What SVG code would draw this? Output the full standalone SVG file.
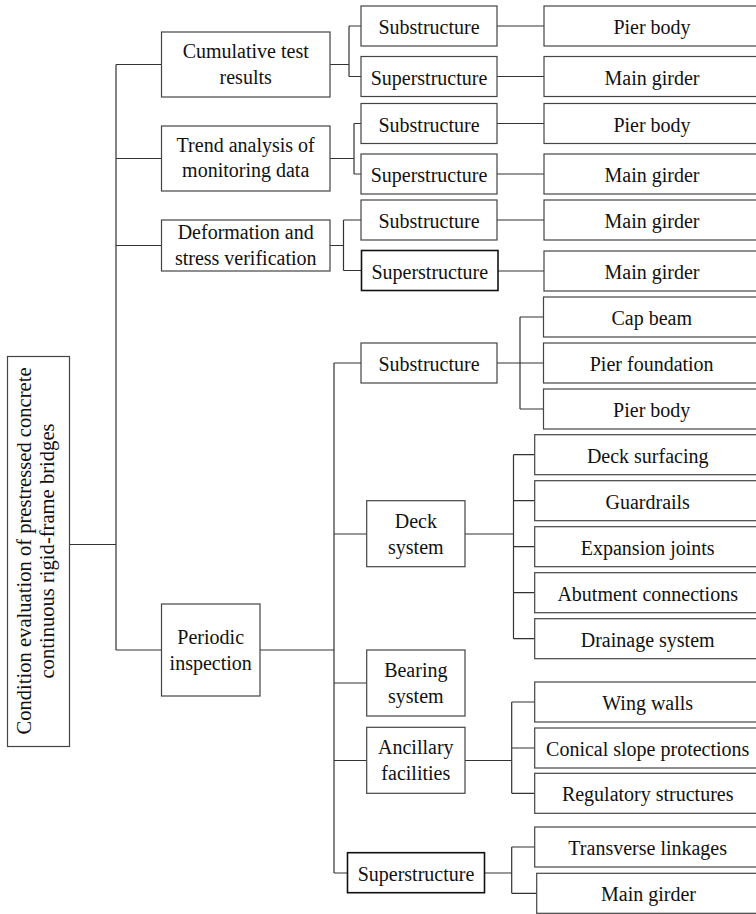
<svg xmlns="http://www.w3.org/2000/svg" width="756" height="914" viewBox="0 0 756 914">
<style>
.b{fill:#fff;stroke:#444;stroke-width:1.2}
.d{fill:#fff;stroke:#111;stroke-width:1.6}
.c{fill:none;stroke:#333;stroke-width:1.2}
.t text{font-size:20px;fill:#111;text-anchor:middle}
</style>
<rect width="756" height="914" fill="#fff"/>
<g id="connectors">
<path class="c" d="M69.5 544.5H116M116 64.5V650M116 64.5H161.5M116 158.5H161.5M116 245.5H161.5M116 650H161.5"/>
<path class="c" d="M330 64.5H349M349 26V76.5M349 26H361M349 76.5H361M497 26H544M497 76.5H544"/>
<path class="c" d="M330 158.5H354M354 123.5V174M354 123.5H361M354 174H361M497 123.5H544M497 174H544"/>
<path class="c" d="M330 245.5H343.5M343.5 220V270.5M343.5 220H361M343.5 270.5H361.5M497 220H544M498 271H544"/>
<path class="c" d="M260 650H334M334 363V873M334 363H361M334 534H366.7M334 683H366.7M334 760.5H366.7M334 873H347.5"/>
<path class="c" d="M497 363H520M520 317V409M520 317H543.5M520 363H543.5M520 409H543.5"/>
<path class="c" d="M465 534H513.5M513.5 454.7V638.7M513.5 454.7H534.7M513.5 500.7H534.7M513.5 546.7H534.7M513.5 592.7H534.7M513.5 638.7H534.7"/>
<path class="c" d="M465 760.5H511.7M511.7 702V793.3M511.7 702H534.7M511.7 748H534.7M511.7 793.3H534.7"/>
<path class="c" d="M484.5 873H511.7M511.7 847V893.3M511.7 847H534.7M511.7 893.3H536.7"/>
</g>
<g class="t" font-family="'Liberation Serif', 'Times New Roman', Tinos, 'DejaVu Serif', serif">
<g id="root"><rect class="b" x="7.5" y="356.5" width="62" height="390"/>
<g transform="translate(0,551) rotate(-90)"><text x="0" y="31" style="font-size:20.6px">Condition evaluation of prestressed concrete</text><text x="0" y="54" style="font-size:20.6px">continuous rigid-frame bridges</text></g></g>
<g id="cumulative"><rect class="b" x="161.5" y="32" width="168.5" height="65"/><text x="245.7" y="57.8">Cumulative test</text><text x="245.7" y="83.5">results</text></g>
<g id="trend"><rect class="b" x="161.5" y="126" width="168.5" height="65"/><text x="245.7" y="151.7">Trend analysis of</text><text x="245.7" y="177">monitoring data</text></g>
<g id="deformation"><rect class="b" x="161.5" y="220" width="168.5" height="51"/><text x="245.7" y="238.5">Deformation and</text><text x="245.7" y="264.5">stress verification</text></g>
<g id="periodic"><rect class="b" x="161.5" y="604" width="98.5" height="92"/><text x="210.7" y="644">Periodic</text><text x="210.7" y="670">inspection</text></g>
<g id="sub1"><rect class="b" x="361" y="6" width="136" height="40"/><text x="429" y="34">Substructure</text></g>
<g id="sup1"><rect class="b" x="361" y="56.5" width="136" height="40"/><text x="429" y="84.5">Superstructure</text></g>
<g id="pier1"><rect class="b" x="544" y="6" width="216" height="40"/><text x="652" y="34">Pier body</text></g>
<g id="girder1"><rect class="b" x="544" y="56.5" width="216" height="40"/><text x="652" y="84.5">Main girder</text></g>
<g id="sub2"><rect class="b" x="361" y="103.5" width="136" height="40"/><text x="429" y="131.5">Substructure</text></g>
<g id="sup2"><rect class="b" x="361" y="154" width="136" height="40"/><text x="429" y="182">Superstructure</text></g>
<g id="pier2"><rect class="b" x="544" y="103.5" width="216" height="40"/><text x="652" y="131.5">Pier body</text></g>
<g id="girder2"><rect class="b" x="544" y="154" width="216" height="40"/><text x="652" y="182">Main girder</text></g>
<g id="sub3"><rect class="b" x="361" y="200" width="136" height="40"/><text x="429" y="228">Substructure</text></g>
<g id="sup3"><rect class="d" x="361.5" y="250.5" width="136.5" height="40"/><text x="429.7" y="278.5">Superstructure</text></g>
<g id="girder3"><rect class="b" x="544" y="200" width="216" height="40"/><text x="652" y="228">Main girder</text></g>
<g id="girder4"><rect class="b" x="544" y="251" width="216" height="40"/><text x="652" y="279">Main girder</text></g>
<g id="sub4"><rect class="b" x="361" y="343" width="136" height="40"/><text x="429" y="371">Substructure</text></g>
<g id="capbeam"><rect class="b" x="543.5" y="297" width="216.5" height="40"/><text x="651.7" y="325">Cap beam</text></g>
<g id="pierfoundation"><rect class="b" x="543.5" y="343" width="216.5" height="40"/><text x="651.7" y="371">Pier foundation</text></g>
<g id="pier3"><rect class="b" x="543.5" y="389" width="216.5" height="40"/><text x="651.7" y="417">Pier body</text></g>
<g id="deck"><rect class="b" x="366.7" y="500.7" width="98.3" height="66"/><text x="415.8" y="527.5">Deck</text><text x="415.8" y="553.5">system</text></g>
<g id="surfacing"><rect class="b" x="534.7" y="434.7" width="226" height="40"/><text x="647.7" y="462.7">Deck surfacing</text></g>
<g id="guardrails"><rect class="b" x="534.7" y="480.7" width="226" height="40"/><text x="647.7" y="508.7">Guardrails</text></g>
<g id="expansion"><rect class="b" x="534.7" y="526.7" width="226" height="40"/><text x="647.7" y="554.7">Expansion joints</text></g>
<g id="abutment"><rect class="b" x="534.7" y="572.7" width="226" height="40"/><text x="647.7" y="600.7">Abutment connections</text></g>
<g id="drainage"><rect class="b" x="534.7" y="618.7" width="226" height="40"/><text x="647.7" y="646.7">Drainage system</text></g>
<g id="bearing"><rect class="b" x="366.7" y="650" width="98.3" height="66"/><text x="415.8" y="677">Bearing</text><text x="415.8" y="703">system</text></g>
<g id="ancillary"><rect class="b" x="366.7" y="727.3" width="98.3" height="66"/><text x="415.8" y="754">Ancillary</text><text x="415.8" y="780">facilities</text></g>
<g id="wingwalls"><rect class="b" x="534.7" y="682" width="226" height="40"/><text x="647.7" y="710">Wing walls</text></g>
<g id="conical"><rect class="b" x="534.7" y="728" width="226" height="40"/><text x="647.7" y="756">Conical slope protections</text></g>
<g id="regulatory"><rect class="b" x="534.7" y="773.3" width="226" height="40"/><text x="647.7" y="801.3">Regulatory structures</text></g>
<g id="sup4"><rect class="d" x="347.5" y="852.7" width="137" height="40"/><text x="416" y="880.7">Superstructure</text></g>
<g id="transverse"><rect class="b" x="534.7" y="827" width="226" height="40"/><text x="647.7" y="855">Transverse linkages</text></g>
<g id="girder5"><rect class="b" x="536.7" y="873.3" width="224" height="40"/><text x="648.5" y="901.3">Main girder</text></g>
</g>
</svg>
